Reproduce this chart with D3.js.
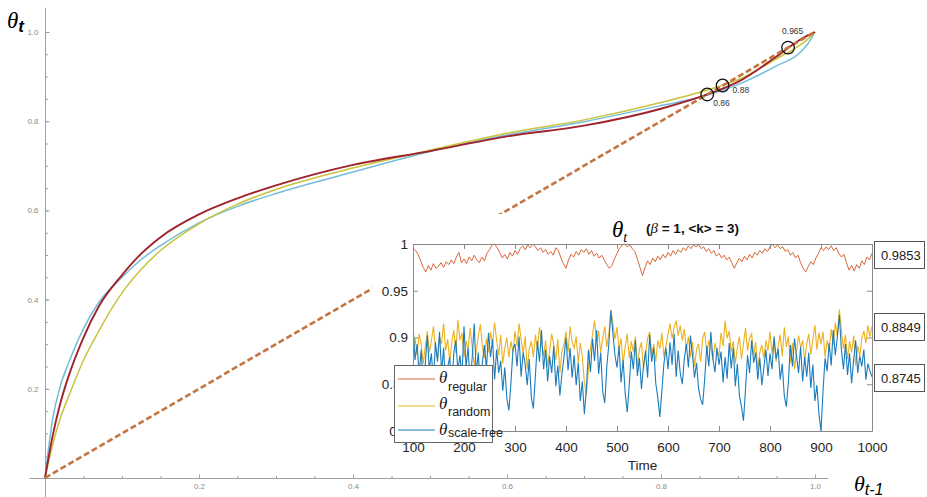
<!DOCTYPE html>
<html>
<head>
<meta charset="utf-8">
<script src="https://cdn.jsdelivr.net/npm/d3@7"></script>
<style>
  body { margin: 0; background: #fff; }
  svg { display: block; font-family: "Liberation Sans", Arial, sans-serif; }
</style>
</head>
<body>
<svg id="chart" width="927" height="497"></svg>
<script>
// main map: theta_t against theta_(t-1)
const thetaPrev   = [0, 0.01, 0.02, 0.03, 0.05, 0.07, 0.1, 0.125, 0.15, 0.2, 0.25, 0.3, 0.4, 0.5, 0.6, 0.7, 0.8, 0.86, 0.9, 0.95, 0.98, 0.99, 1.0];
const thetaRed    = [0, 0.095, 0.168, 0.225, 0.315, 0.385, 0.455, 0.503, 0.540, 0.591, 0.627, 0.656, 0.702, 0.733, 0.766, 0.790, 0.828, 0.86, 0.888, 0.945, 0.982, 0.992, 1.0];
const thetaYellow = [0, 0.075, 0.135, 0.18, 0.264, 0.33, 0.415, 0.468, 0.51, 0.57, 0.614, 0.647, 0.695, 0.735, 0.773, 0.803, 0.842, 0.87, 0.893, 0.94, 0.97, 0.983, 1.0];
const thetaBlue   = [0, 0.133, 0.207, 0.255, 0.335, 0.394, 0.450, 0.490, 0.521, 0.572, 0.609, 0.638, 0.686, 0.732, 0.769, 0.799, 0.835, 0.858, 0.882, 0.924, 0.953, 0.972, 1.0];
const fixedPoints = [0.86, 0.88, 0.965];
const fixedLabels = ["0.86", "0.88", "0.965"];
const mainMajor = [0.2, 0.4, 0.6, 0.8, 1.0];

// inset: theta_t over time. regular every 5 steps, the other two every 4 steps, from t = 100
const regularSeries = [
  0.996,0.993,0.989,0.982,0.975,0.970,0.977,0.972,0.979,0.974,
  0.976,0.980,0.975,0.981,0.978,0.983,0.979,0.986,0.991,0.980,
  0.984,0.979,0.986,0.982,0.988,0.983,0.980,0.986,0.982,0.990,
  0.994,0.999,1.000,0.996,0.991,0.985,0.989,0.984,0.991,0.987,
  0.993,0.989,0.995,0.998,0.994,0.999,0.996,1.000,0.997,0.993,
  0.996,0.991,0.994,0.989,0.992,0.988,0.996,0.993,0.985,0.979,
  0.974,0.983,0.989,0.986,0.992,0.988,0.994,0.991,0.995,0.989,
  0.993,0.987,0.990,0.985,0.988,0.983,0.978,0.974,0.977,0.984,
  0.990,0.995,0.999,1.000,0.997,0.999,0.995,0.992,0.984,0.975,
  0.966,0.975,0.982,0.978,0.985,0.981,0.987,0.983,0.989,0.985,
  0.991,0.987,0.993,0.989,0.994,0.991,0.996,0.993,0.998,0.995,
  0.999,0.997,0.999,0.995,0.997,0.992,0.995,0.990,0.993,0.987,
  0.990,0.985,0.988,0.983,0.986,0.980,0.974,0.980,0.985,0.981,
  0.987,0.983,0.989,0.985,0.991,0.988,0.993,0.990,0.995,0.992,
  0.997,1.000,0.996,0.999,0.995,0.997,0.992,0.994,0.988,0.991,
  0.985,0.988,0.980,0.974,0.970,0.976,0.981,0.978,0.985,0.990,
  0.996,0.993,0.997,0.994,0.998,0.993,0.996,0.990,0.986,0.989,
  0.980,0.972,0.977,0.971,0.978,0.974,0.982,0.978,0.986,0.983,
  0.990
];
const randomSeries = [
  0.886,0.899,0.881,0.904,0.893,0.872,0.890,0.907,0.884,0.896,0.912,0.889,0.877,0.901,0.893,0.915,0.886,0.898,0.875,0.894,0.908,0.883,0.919,0.897,0.905,
  0.879,0.896,0.887,0.910,0.891,0.870,0.885,0.902,0.914,0.890,0.878,0.899,0.884,0.906,0.893,0.916,0.897,0.881,0.903,0.872,0.889,0.900,0.879,0.896,0.884,
  0.907,0.891,0.915,0.898,0.883,0.901,0.866,0.888,0.896,0.879,0.903,0.887,0.911,0.894,0.880,0.897,0.869,0.886,0.904,0.892,0.876,0.898,0.862,0.885,0.893,
  0.906,0.884,0.912,0.895,0.889,0.901,0.873,0.894,0.880,0.852,0.838,0.867,0.889,0.903,0.918,0.895,0.907,0.884,0.899,0.912,0.890,0.904,0.929,0.915,0.898,
  0.911,0.887,0.899,0.872,0.890,0.904,0.878,0.896,0.885,0.901,0.869,0.887,0.895,0.866,0.883,0.899,0.906,0.881,0.893,0.874,0.897,0.888,0.905,0.879,0.891,
  0.903,0.915,0.899,0.911,0.918,0.902,0.913,0.897,0.909,0.887,0.901,0.879,0.895,0.869,0.887,0.893,0.874,0.899,0.906,0.883,0.897,0.889,0.876,0.894,0.885,
  0.880,0.905,0.891,0.918,0.899,0.907,0.885,0.896,0.872,0.889,0.901,0.877,0.893,0.910,0.886,0.899,0.904,0.881,0.895,0.866,0.884,0.892,0.878,0.897,0.886,
  0.906,0.883,0.898,0.874,0.891,0.903,0.880,0.911,0.890,0.901,0.873,0.894,0.866,0.885,0.902,0.889,0.897,0.875,0.893,0.904,0.882,0.898,0.913,0.887,0.905,
  0.893,0.906,0.879,0.897,0.885,0.909,0.892,0.916,0.901,0.930,0.908,0.888,0.903,0.877,0.896,0.884,0.902,0.870,0.891,0.880,0.899,0.907,0.894,0.913,0.901,
  0.912
];
const scaleFreeSeries = [
  0.914,0.876,0.893,0.861,0.887,0.848,0.871,0.902,0.866,0.883,0.853,0.895,0.874,0.906,0.862,0.889,0.845,0.868,0.879,0.842,0.884,0.897,0.864,0.881,0.858,
  0.912,0.868,0.889,0.852,0.878,0.915,0.861,0.884,0.846,0.873,0.892,0.866,0.905,0.879,0.898,0.855,0.887,0.862,0.875,0.843,0.868,0.835,0.822,0.851,0.887,
  0.893,0.869,0.901,0.858,0.884,0.871,0.849,0.877,0.836,0.824,0.859,0.896,0.874,0.908,0.866,0.887,0.853,0.880,0.862,0.891,0.848,0.870,0.838,0.861,0.879,
  0.900,0.865,0.889,0.857,0.881,0.849,0.873,0.832,0.853,0.818,0.846,0.887,0.863,0.899,0.875,0.908,0.861,0.884,0.842,0.830,0.869,0.893,0.929,0.904,0.881,
  0.868,0.891,0.852,0.876,0.841,0.820,0.849,0.885,0.866,0.897,0.859,0.878,0.845,0.870,0.886,0.857,0.903,0.874,0.889,0.851,0.836,0.815,0.843,0.872,0.889,
  0.866,0.895,0.871,0.904,0.858,0.886,0.862,0.850,0.877,0.893,0.868,0.902,0.881,0.857,0.873,0.845,0.834,0.828,0.856,0.891,0.869,0.906,0.877,0.863,0.889,
  0.871,0.885,0.852,0.879,0.856,0.894,0.867,0.889,0.848,0.872,0.838,0.826,0.811,0.845,0.881,0.862,0.897,0.873,0.884,0.855,0.878,0.849,0.868,0.887,0.859,
  0.883,0.866,0.901,0.877,0.888,0.855,0.872,0.838,0.826,0.852,0.892,0.869,0.899,0.880,0.862,0.890,0.853,0.879,0.858,0.884,0.846,0.871,0.832,0.849,0.818,
  0.800,0.843,0.878,0.864,0.894,0.870,0.908,0.881,0.900,0.924,0.887,0.866,0.893,0.860,0.883,0.851,0.876,0.897,0.862,0.880,0.869,0.887,0.855,0.872,0.864,
  0.858
];
const timeTicks  = [100, 200, 300, 400, 500, 600, 700, 800, 900, 1000];
const thetaTicks = [0.8, 0.85, 0.9, 0.95, 1];
const lastValues = ["0.9853", "0.8849", "0.8745"];
const legendNames = ["regular", "random", "scale-free"];

const svg = d3.select("#chart");

// ---- main plot ----
const x = d3.scaleLinear().domain([0, 1]).range([45, 815]);
const y = d3.scaleLinear().domain([0, 1]).range([478, 32]);
const minorTicks = d3.range(0, 1.001, 0.05);

const axisColor = "#a0a0a0";
svg.append("line")
  .attr("x1", x(-0.02)).attr("x2", x(1.017))
  .attr("y1", y(0) + 0.5).attr("y2", y(0) + 0.5)
  .attr("stroke", axisColor);
svg.append("line")
  .attr("x1", x(0) + 0.5).attr("x2", x(0) + 0.5)
  .attr("y1", y(1.054)).attr("y2", y(-0.043))
  .attr("stroke", axisColor);

function styleMainAxis(g) {
  g.select(".domain").remove();
  g.selectAll("line").attr("stroke", axisColor);
  g.selectAll("text").attr("fill", "#8a8a8a").attr("font-size", 8);
}
svg.append("g").attr("transform", `translate(0,${y(0) + 0.5})`)
  .call(d3.axisBottom(x).tickValues(minorTicks).tickSize(-2.5).tickFormat(""))
  .call(styleMainAxis);
svg.append("g").attr("transform", `translate(0,${y(0) + 0.5})`)
  .call(d3.axisBottom(x).tickValues(mainMajor).tickSize(-4).tickPadding(5).tickFormat(d3.format(".1f")))
  .call(styleMainAxis);
svg.append("g").attr("transform", `translate(${x(0) + 0.5},0)`)
  .call(d3.axisLeft(y).tickValues(minorTicks).tickSize(-2.5).tickFormat(""))
  .call(styleMainAxis);
svg.append("g").attr("transform", `translate(${x(0) + 0.5},0)`)
  .call(d3.axisLeft(y).tickValues(mainMajor).tickSize(-4).tickPadding(7).tickFormat(d3.format(".1f")))
  .call(styleMainAxis);

const mapLine = d3.line()
  .x((d) => x(d[0]))
  .y((d) => y(d[1]))
  .curve(d3.curveMonotoneX);

const mainCurves = [
  { values: thetaBlue, color: "#74bdd8", width: 1.5 },
  { values: thetaYellow, color: "#c9c33d", width: 1.5 },
  { values: thetaRed, color: "#a0222c", width: 1.9 }
];
mainCurves.forEach((c) => {
  svg.append("path")
    .datum(thetaPrev.map((v, i) => [v, c.values[i]]))
    .attr("d", mapLine)
    .attr("fill", "none")
    .attr("stroke", c.color)
    .attr("stroke-width", c.width);
});

// identity line theta_t = theta_(t-1)
svg.append("path")
  .datum([[0, 0], [1, 1]])
  .attr("d", d3.line().x((d) => x(d[0])).y((d) => y(d[1])))
  .attr("stroke", "#c4743f")
  .attr("stroke-width", 2.6)
  .attr("stroke-dasharray", "6,3");

const labelOffsets = [[6, 12], [10, 7], [-6, -14]];
fixedPoints.forEach((p, i) => {
  svg.append("circle")
    .attr("cx", x(p)).attr("cy", y(p)).attr("r", 6.3)
    .attr("fill", "none").attr("stroke", "#111").attr("stroke-width", 1.3);
  svg.append("text")
    .attr("x", x(p) + labelOffsets[i][0])
    .attr("y", y(p) + labelOffsets[i][1])
    .attr("font-size", 8.5).attr("fill", "#333")
    .text(fixedLabels[i]);
});

// axis titles
const ty = svg.append("text").attr("x", 7).attr("y", 28);
ty.append("tspan").attr("font-family", "Liberation Serif, serif").attr("font-style", "italic")
  .attr("font-size", 23).text("θ");
ty.append("tspan").attr("font-style", "italic").attr("font-weight", "bold")
  .attr("font-size", 17).attr("dy", 4).text("t");

const tx = svg.append("text").attr("x", 854).attr("y", 491);
tx.append("tspan").attr("font-family", "Liberation Serif, serif").attr("font-style", "italic")
  .attr("font-size", 22).text("θ");
tx.append("tspan").attr("font-style", "italic").attr("font-size", 16).attr("dy", 4).text("t-1");

// ---- inset ----
const inset = svg.append("g");
inset.append("rect").attr("x", 372).attr("y", 214).attr("width", 555).attr("height", 257).attr("fill", "#fff");

const ix = d3.scaleLinear().domain([100, 1000]).range([413, 872]);
const iy = d3.scaleLinear().domain([0.8, 1]).range([431, 244]);

inset.append("clipPath").attr("id", "insetClip")
  .append("rect").attr("x", 413).attr("y", 243).attr("width", 459).attr("height", 188);

const seriesLine = d3.line().x((d) => ix(d[0])).y((d) => iy(d[1]));
const insetSeries = [
  { values: regularSeries, step: 5, color: "#d8683a", width: 1 },
  { values: randomSeries, step: 4, color: "#edb120", width: 1.1 },
  { values: scaleFreeSeries, step: 4, color: "#1b7cbd", width: 1.1 }
];
const plotG = inset.append("g").attr("clip-path", "url(#insetClip)");
insetSeries.forEach((s) => {
  plotG.append("path")
    .datum(s.values.map((v, i) => [100 + s.step * i, v]))
    .attr("d", seriesLine)
    .attr("fill", "none")
    .attr("stroke", s.color)
    .attr("stroke-width", s.width);
});

const boxColor = "#8a8a8a";
function styleInsetAxis(g) {
  g.select(".domain").attr("stroke", boxColor);
  g.selectAll(".tick line").attr("stroke", boxColor);
  g.selectAll("text").attr("fill", "#262626").attr("font-size", 13.5)
    .attr("font-family", "Liberation Sans, Arial, sans-serif");
}
inset.append("g").attr("transform", "translate(0,431)")
  .call(d3.axisBottom(ix).tickValues(timeTicks).tickSize(-5).tickSizeOuter(0).tickPadding(11)
    .tickFormat(d3.format("d")))
  .call(styleInsetAxis);
inset.append("g").attr("transform", "translate(0,244)")
  .call(d3.axisTop(ix).tickValues(timeTicks).tickSize(-5).tickSizeOuter(0).tickFormat(""))
  .call(styleInsetAxis);
inset.append("g").attr("transform", "translate(413,0)")
  .call(d3.axisLeft(iy).tickValues(thetaTicks).tickSize(-5).tickSizeOuter(0).tickPadding(5)
    .tickFormat((d) => String(+d.toFixed(2))))
  .call(styleInsetAxis);
inset.append("g").attr("transform", "translate(872,0)")
  .call(d3.axisRight(iy).tickValues(thetaTicks).tickSize(-5).tickSizeOuter(0).tickFormat(""))
  .call(styleInsetAxis);

inset.append("text").attr("x", (ix.range()[0] + ix.range()[1]) / 2).attr("y", 470)
  .attr("text-anchor", "middle").attr("font-size", 13.5).attr("fill", "#262626").text("Time");

// title
const title = inset.append("text").attr("x", 612).attr("y", 237);
title.append("tspan").attr("font-family", "Liberation Serif, serif").attr("font-style", "italic")
  .attr("font-size", 23).text("θ");
title.append("tspan").attr("font-family", "Liberation Serif, serif").attr("font-style", "italic")
  .attr("font-size", 14).attr("dy", 5).text("t");
const titleRest = inset.append("text").attr("x", 646).attr("y", 233)
  .attr("font-size", 13.5).attr("font-weight", "bold").attr("fill", "#111");
titleRest.append("tspan").text("(");
titleRest.append("tspan").attr("font-family", "Liberation Serif, serif").attr("font-style", "italic")
  .attr("font-weight", "normal").attr("font-size", 15).text("β");
titleRest.append("tspan").text(" = 1, <k> = 3)");

// value boxes on the right
const boxTops = [241, 313, 364];
lastValues.forEach((v, i) => {
  inset.append("rect").attr("x", 874.5).attr("y", boxTops[i] + 0.5)
    .attr("width", 50).attr("height", 27)
    .attr("fill", "#fff").attr("stroke", "#555");
  inset.append("text").attr("x", 881).attr("y", boxTops[i] + 18.5)
    .attr("font-size", 13).attr("fill", "#222").text(v);
});

// legend
const legend = inset.append("g");
legend.append("rect").attr("x", 394.5).attr("y", 365.5).attr("width", 98).attr("height", 77)
  .attr("fill", "#fff").attr("stroke", "#666");
const legendRows = [
  { lineY: 379, thetaY: 383, subY: 391 },
  { lineY: 406, thetaY: 409, subY: 416 },
  { lineY: 430, thetaY: 435, subY: 437 }
];
legendNames.forEach((name, i) => {
  const r = legendRows[i];
  legend.append("line").attr("x1", 398).attr("x2", 435).attr("y1", r.lineY).attr("y2", r.lineY)
    .attr("stroke", insetSeries[i].color).attr("stroke-width", 1);
  legend.append("text").attr("x", 439).attr("y", r.thetaY)
    .attr("font-family", "Liberation Serif, serif").attr("font-style", "italic")
    .attr("font-size", 17).attr("fill", "#222").text("θ");
  legend.append("text").attr("x", 448).attr("y", r.subY)
    .attr("font-size", 12.5).attr("fill", "#222").text(name);
});
</script>
</body>
</html>
